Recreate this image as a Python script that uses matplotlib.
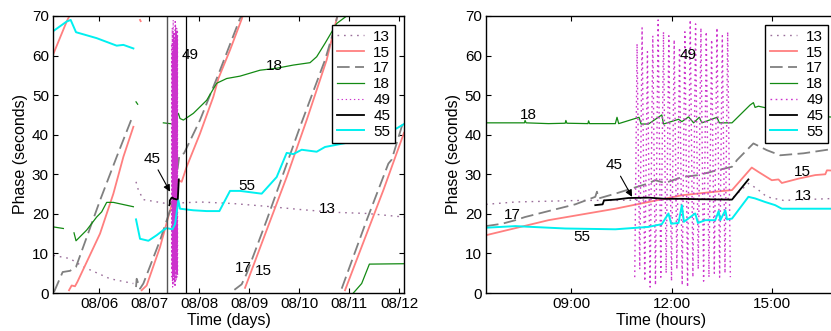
import numpy as np
import matplotlib
matplotlib.use("Agg")
import matplotlib.pyplot as plt

plt.rcParams['font.family'] = ['Liberation Sans', 'DejaVu Sans']

# ---- left panel: time in days of August, phase in seconds (None = gap) ----
d13 = [5.087, 5.42, 5.687, 6.22, 6.687, None,
       6.74, 6.787, 6.887, 7.353, 8.02, 8.687, 9.353, 10.02, 10.687, 11.353, 12.1]
p13 = [9.5, 8.7, 6.6, 3.6, 2.4, None,
       28.1, 26.0, 23.6, 22.6, 23.0, 22.6, 21.9, 21.1, 20.4, 20.1, 19.2]

d15 = [5.087, 5.353, 5.407, None,
       5.40, 5.453, 5.52, 5.567, 6.02, 6.287, 6.487, 6.687, None,
       6.82, 6.833, None,
       6.853, 6.953, 7.22, 7.587, 7.653, 7.753, 8.02, 8.287, 8.387, 8.62, 8.853, 8.873, None,
       8.92, 9.353, 9.753, 10.153, 10.553, 10.767, None,
       10.92, 11.353, 11.687, 12.1]
p15 = [60.4, 68.6, 70.0, None,
       0.7, 1.9, 1.7, 2.8, 15.0, 25.1, 34.4, 42.0, None,
       69.0, 68.7, None,
       0.7, 1.9, 11.6, 28.5, 28.1, 31.9, 40.3, 49.6, 54.2, 61.4, 69.2, 70.0, None,
       1.3, 15.9, 29.3, 43.7, 58.9, 70.0, None,
       0.7, 15.0, 26.0, 40.5]

d17 = [5.10, 5.273, 5.42, 5.54, 6.02, 6.353, 6.667, None,
       6.74, 6.753, 6.82, 6.887, 7.22, 7.487, 7.607, 7.70, 8.02, 8.42, 8.82, 8.853, None,
       8.707, 8.853, 8.953, 9.353, 10.02, 10.52, 10.687, 10.767, None,
       10.853, 11.353, 11.787, 11.853, 12.053, 12.1]
p17 = [0.25, 5.3, 5.6, 6.6, 23.4, 34.4, 44.5, None,
       1.5, 3.6, 1.1, 2.4, 13.3, 23.4, 34.8, 35.3, 43.7, 56.3, 69.4, 70.0, None,
       0.8, 2.2, 4.9, 18.4, 42.0, 58.9, 66.0, 70.0, None,
       1.1, 18.4, 32.7, 33.7, 42.0, 43.7]

d18 = [5.087, 5.287, None,
       5.50, 5.54, 5.753, 5.953, 6.053, 6.153, 6.287, 6.687, None,
       6.74, 6.773, None,
       7.287, 7.487, 7.587, 7.62, 7.687, 7.887, 8.153, 8.353, 8.553, 8.82, 9.22, 9.553,
       9.887, 10.22, 10.353, 10.52, 10.753, 10.953, None,
       11.087, 11.253, 11.407, 12.1]
p18 = [16.7, 16.3, None,
       15.2, 13.2, 15.9, 19.2, 20.5, 22.9, 22.9, 21.8, None,
       48.3, 47.7, None,
       43.0, 42.7, 45.4, 44.1, 43.7, 45.4, 48.7, 53.0, 54.2, 54.8, 56.3, 56.8,
       57.6, 58.2, 59.7, 63.1, 68.1, 70.0, None,
       0.0, 2.4, 7.3, 7.4]

d55 = [5.087, 5.353, 5.433, 5.540, 5.953, 6.353, 6.487, 6.687, None,
       6.740, 6.820, 6.987, 7.153, 7.287, 7.353, 7.467, 7.520, 7.587, 7.620, 7.887,
       8.153, 8.407, 8.620, 8.820, 9.253, 9.553, 9.753, 9.887, 10.053, 10.353, 10.520,
       11.220, 11.953, 12.10]
p55 = [66.2, 68.6, 69.0, 65.9, 64.4, 62.5, 62.7, 61.8, None,
       18.6, 13.7, 13.2, 14.6, 15.9, 16.4, 16.1, 17.4, 23.4, 21.3, 20.9,
       20.7, 20.7, 25.8, 25.8, 25.1, 29.3, 35.4, 35.1, 36.2, 35.7, 36.9,
       38.6, 41.6, 42.7]

zoom_start_day = 7.353
zoom_end_day = 7.74

# ---- right panel: time in hours of 08/07 ----
h13 = [6.45, 7.33, 8.32, 9.32, 10.32, 12.31, 13.81, 14.30, 14.55, 14.85, 15.35, 16.9]
q13 = [22.4, 23.0, 23.2, 23.4, 23.4, 23.6, 23.9, 27.7, 26.4, 24.3, 23.4, 23.9]

h15 = [6.45, 8.32, 10.32, 11.31, 12.31, 13.31, 13.81, 14.40, 14.60, 15.0, 15.2, 15.3,
       15.8, 16.3, 16.6, 16.65, 16.9]
q15 = [14.6, 18.4, 21.3, 23.0, 24.7, 25.6, 26.0, 31.7, 30.6, 28.5, 28.7, 27.8,
       28.9, 29.8, 30.0, 31.0, 30.9]

h17 = [6.45, 6.93, 7.33, 7.62, 8.32, 9.12, 9.72, 9.77, 9.82, 10.32, 10.81, 11.31,
       11.51, 11.81, 12.31, 12.81, 13.31, 13.81, 13.96, 14.45, 14.85, 15.25, 15.95, 16.9]
q17 = [16.9, 17.5, 18.4, 19.2, 20.7, 22.4, 24.3, 25.6, 23.9, 25.1, 26.4, 27.7,
       28.5, 27.8, 29.3, 29.8, 30.9, 31.9, 33.6, 37.8, 36.1, 34.8, 35.3, 36.5]

h18 = [6.45, 7.60, 7.62, 7.65, 8.32, 8.82, 8.84, 8.87, 9.50, 9.52, 9.55, 10.32, 10.37,
       10.42, 11.03, 11.09, 11.31, 11.71, 11.76, 12.21, 12.31, 12.51, 12.66, 12.83,
       12.91, 13.36, 13.43, 13.81, 14.35, 14.45, 14.50, 14.60, 15.8, 16.9]
q18 = [43.0, 43.0, 43.6, 43.0, 42.8, 42.9, 43.6, 42.9, 42.8, 43.5, 42.8, 42.8, 44.4,
       42.8, 44.4, 42.7, 42.7, 45.0, 42.7, 43.9, 43.3, 44.5, 43.0, 44.4,
       43.0, 44.4, 43.0, 43.0, 47.5, 48.1, 46.9, 47.2, 45.0, 44.4]

h45 = [9.72, 9.94, 9.98, 10.32, 10.71, 11.31, 11.81, 12.31, 12.81, 13.81, 14.30]
q45 = [22.2, 22.4, 23.4, 23.6, 24.0, 24.1, 23.8, 23.8, 23.7, 23.6, 28.7]

h49 = [10.90, 10.97, 11.05, 11.12, 11.20, 11.28, 11.36, 11.44, 11.52, 11.60, 11.68,
       11.76, 11.84, 11.92, 12.00, 12.08, 12.16, 12.24, 12.32, 12.40, 12.48, 12.56,
       12.64, 12.72, 12.80, 12.88, 12.96, 13.04, 13.12, 13.20, 13.28, 13.36, 13.44,
       13.52, 13.60, 13.68, 13.76]
q49 = [4, 63, 6, 67, 3, 61, 1.5, 65, 2, 69, 4,
       66, 5, 65, 3, 64, 6, 62, 2, 66, 1.5, 69,
       4, 68, 6, 67, 3, 66, 4, 64, 5, 67, 4,
       65, 5, 66, 4]

h55 = [6.45, 7.33, 8.82, 10.32, 10.81, 11.31, 11.71, 11.91, 11.99, 12.21, 12.31, 12.37,
       12.71, 12.79, 13.01, 13.31, 13.41, 13.46, 13.61, 13.66, 13.81, 14.30, 14.50,
       14.80, 15.10, 15.30, 16.9]
q55 = [16.5, 16.9, 16.3, 16.1, 16.4, 16.7, 17.4, 20.1, 17.5, 17.7, 22.2, 18.0,
       20.1, 17.7, 18.4, 18.4, 20.7, 18.4, 20.9, 18.6, 18.8, 24.3, 23.9,
       23.0, 22.2, 21.3, 21.3]

day_ticks = [6, 7, 8, 9, 10, 11, 12]
day_labels = ['08/06', '08/07', '08/08', '08/09', '08/10', '08/11', '08/12']
hour_ticks = [9, 12, 15]
hour_labels = ['09:00', '12:00', '15:00']


def arr(v):
    return np.array(v, dtype=float)


styles = {
    '13': dict(color='#9a6e9a', lw=1.0, ls=(0, (1.2, 3.5))),
    '15': dict(color='#ff7f7f', lw=1.3, ls='-'),
    '17': dict(color='#808080', lw=1.3, ls=(0, (7, 3))),
    '18': dict(color='#138a13', lw=0.9, ls='-'),
    '49': dict(color='#cc33cc', lw=1.0, ls=(0, (1.2, 2.5))),
    '45': dict(color='black', lw=1.3, ls='-'),
    '55': dict(color='#00f0f0', lw=1.4, ls='-'),
}

fig = plt.figure(figsize=(8.31, 3.31), dpi=100)
ax1 = fig.add_axes([0.0638, 0.1148, 0.4224, 0.8369])
ax2 = fig.add_axes([0.5848, 0.1148, 0.4224, 0.8369])

# left panel (49 and 45 are the same records as the right panel, in days)
left = {
    '13': (d13, p13), '15': (d15, p15), '17': (d17, p17), '18': (d18, p18),
    '49': ([7 + h / 24 for h in h49], q49), '45': ([7 + h / 24 for h in h45], q45),
    '55': (d55, p55),
}
for name, (x, y) in left.items():
    st = dict(styles[name])
    if name == '49':
        st['lw'] = 0.8
    ax1.plot(arr(x), arr(y), label=name, **st)
ax1.axvline(zoom_start_day, color='#555555', lw=1.0)
ax1.axvline(zoom_end_day, color='black', lw=0.9)

# right panel
right = {
    '13': (h13, q13), '15': (h15, q15), '17': (h17, q17), '18': (h18, q18),
    '49': (h49, q49), '45': (h45, q45), '55': (h55, q55),
}
for name, (x, y) in right.items():
    ax2.plot(arr(x), arr(y), label=name, **styles[name])

fs = 11
lfs = 11.5
arrow = dict(arrowstyle='-|>', color='black', lw=0.8, mutation_scale=10, shrinkA=1, shrinkB=0)

for txt, x, y in [('49', 7.82, 60.1), ('18', 9.5, 57.4), ('55', 8.96, 27.0),
                  ('13', 10.56, 21.2), ('17', 8.88, 6.3), ('15', 9.28, 5.6)]:
    ax1.text(x, y, txt, fontsize=fs, ha='center', va='center')
ax1.annotate('45', xy=(7.42, 25.6), xytext=(7.06, 33.9), fontsize=fs,
             ha='center', va='center', arrowprops=arrow)

for txt, x, y in [('49', 12.5, 60.1), ('18', 7.71, 45.0), ('17', 7.24, 19.7),
                  ('55', 9.33, 14.2), ('15', 15.91, 30.6), ('13', 15.94, 24.5)]:
    ax2.text(x, y, txt, fontsize=fs, ha='center', va='center')
ax2.annotate('45', xy=(10.82, 24.3), xytext=(10.29, 32.3), fontsize=fs,
             ha='center', va='center', arrowprops=arrow)

ax1.set_xlim(5.08, 12.1)
ax1.set_xticks(day_ticks)
ax1.set_xticklabels(day_labels)
ax1.set_xlabel('Time (days)', fontsize=lfs, labelpad=1)

ax2.set_xlim(6.45, 16.95)
ax2.set_xticks(hour_ticks)
ax2.set_xticklabels(hour_labels)
ax2.set_xlabel('Time (hours)', fontsize=lfs, labelpad=1)

for ax in (ax1, ax2):
    ax.set_ylim(0, 70)
    ax.set_yticks(range(0, 71, 10))
    ax.set_ylabel('Phase (seconds)', fontsize=lfs, labelpad=3)
    ax.tick_params(direction='in', top=True, right=True, length=3.5, width=0.8,
                   labelsize=fs, pad=3)
    for s in ax.spines.values():
        s.set_linewidth(1.0)
    leg = ax.legend(loc='upper right', fontsize=fs, fancybox=False, framealpha=1,
                    edgecolor='black', handlelength=1.8, handletextpad=0.6,
                    labelspacing=0.12, borderpad=0.3, borderaxespad=0.6)
    leg.get_frame().set_linewidth(1.0)

fig.savefig('out.png', dpi=100, facecolor='white')
